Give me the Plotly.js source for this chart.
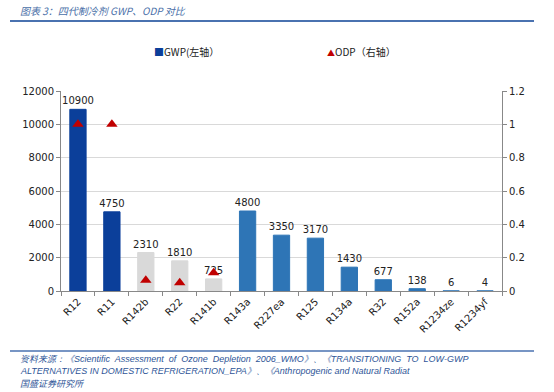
<!DOCTYPE html>
<html><head><meta charset="utf-8">
<script src="https://cdn.plot.ly/plotly-3.0.1.min.js"></script>
<style>body{margin:0;padding:0;background:#fff}#chart{width:554px;height:392px}</style>
</head><body><div id="chart"></div>
<script>
const categories = ["R12","R11","R142b","R22","R141b","R143a","R227ea","R125","R134a","R32","R152a","R1234ze","R1234yf"];
const gwpValues = [10900,4750,2310,1810,725,4800,3350,3170,1430,677,138,6,4];
const gwpColors = ["#0b3f9a","#0b3f9a","#d9d9d9","#d9d9d9","#d9d9d9","#2e75b6","#2e75b6","#2e75b6","#2e75b6","#2e75b6","#2e75b6","#2e75b6","#2e75b6"];
const odpCategories = ["R12","R11","R142b","R22","R141b"];
const odpValues = [1,1,0.065,0.05,0.11];
const leftTicks = [0,2000,4000,6000,8000,10000,12000];
const rightTicks = [0,0.2,0.4,0.6,0.8,1,1.2];

const W=554,H=392,L=61,R=52,T=91,B=101;
const pw=W-L-R, ph=H-T-B;
const px = x => (x-L)/pw;
const py = y => (H-B-y)/ph;
const font = "DejaVu Sans";

const traces = [
 {type:'bar', x:categories, y:gwpValues, marker:{color:gwpColors, line:{color:gwpColors,width:1}},
  text:gwpValues.map(String), textposition:'outside', cliponaxis:false, constraintext:'none',
  textfont:{family:font,size:10,color:'#222'}, showlegend:false, hoverinfo:'x+y'},
 {type:'scatter', mode:'markers', x:odpCategories, y:odpValues, yaxis:'y2',
  marker:{symbol:'triangle-up', color:'#c00000', size:10}, showlegend:false}
];

const layout = {
 width:W, height:H, margin:{l:L,r:R,t:T,b:B},
 paper_bgcolor:'#fff', plot_bgcolor:'#fff',
 bargap:0.52,
 font:{family:font, size:10, color:'#222'},
 xaxis:{type:'category', tickangle:-45, tickson:'boundaries', ticks:'outside', ticklen:4,
   tickcolor:'#888', showline:true, linecolor:'#888', linewidth:1, showgrid:false,
   tickfont:{family:font,size:10,color:'#222'}, range:[-0.5,12.5]},
 yaxis:{range:[0,12000], tickvals:leftTicks, tickformat:'d', ticks:'outside', ticklen:4, tickcolor:'#888',
   showline:true, linecolor:'#888', gridcolor:'#d9d9d9', gridwidth:1, zeroline:false,
   tickfont:{family:font,size:10,color:'#222'}},
 yaxis2:{range:[0,1.2], tickvals:rightTicks, overlaying:'y', side:'right', ticks:'outside', ticklen:4,
   tickcolor:'#888', showline:true, linecolor:'#888', showgrid:false, zeroline:false,
   tickfont:{family:font,size:10,color:'#222'}},
 shapes:[
  {type:'line', xref:'paper', yref:'paper', x0:px(10), x1:px(534), y0:py(21), y1:py(21), line:{color:'#4a72b0',width:2}},
  {type:'line', xref:'paper', yref:'paper', x0:px(10), x1:px(534), y0:py(351), y1:py(351), line:{color:'#4a72b0',width:1.5}}
 ],
 annotations:[
  {xref:'paper',yref:'paper',x:px(18),y:py(10),xanchor:'left',yanchor:'middle',showarrow:false,
   text:'<i>图表 3：四代制冷剂 GWP、ODP 对比</i>', font:{family:'Noto Sans CJK SC',size:10,color:'#4a6fa8'}},
  {xref:'paper',yref:'paper',x:px(152),y:py(52),xanchor:'left',yanchor:'middle',showarrow:false,
   text:"<span style='color:#0b3f9a'>■</span>GWP(左轴）", font:{family:'Noto Sans CJK SC',size:10,color:'#222'}},
  {xref:'paper',yref:'paper',x:px(325),y:py(52),xanchor:'left',yanchor:'middle',showarrow:false,
   text:"<span style='color:#c00000;font-size:8px'>▲</span>ODP（右轴）", font:{family:'Noto Sans CJK SC',size:10,color:'#222'}},
  {xref:'paper',yref:'paper',x:px(18),y:py(359),xanchor:'left',yanchor:'middle',showarrow:false,
   text:'<i>资料来源：《Scientific  Assessment  of  Ozone  Depletion  2006_WMO》、《TRANSITIONING  TO  LOW-GWP</i>', font:{family:'Liberation Sans',size:9,color:'#2e5597'}},
  {xref:'paper',yref:'paper',x:px(18),y:py(371),xanchor:'left',yanchor:'middle',showarrow:false,
   text:'<i>ALTERNATIVES IN DOMESTIC REFRIGERATION_EPA》、《Anthropogenic and Natural Radiat</i>', font:{family:'Liberation Sans',size:9,color:'#2e5597'}},
  {xref:'paper',yref:'paper',x:px(18),y:py(383),xanchor:'left',yanchor:'middle',showarrow:false,
   text:'<i>国盛证券研究所</i>', font:{family:'Noto Sans CJK SC',size:9,color:'#2e5597'}}
 ]
};
Plotly.newPlot('chart', traces, layout, {displayModeBar:false, staticPlot:true});
</script></body></html>
